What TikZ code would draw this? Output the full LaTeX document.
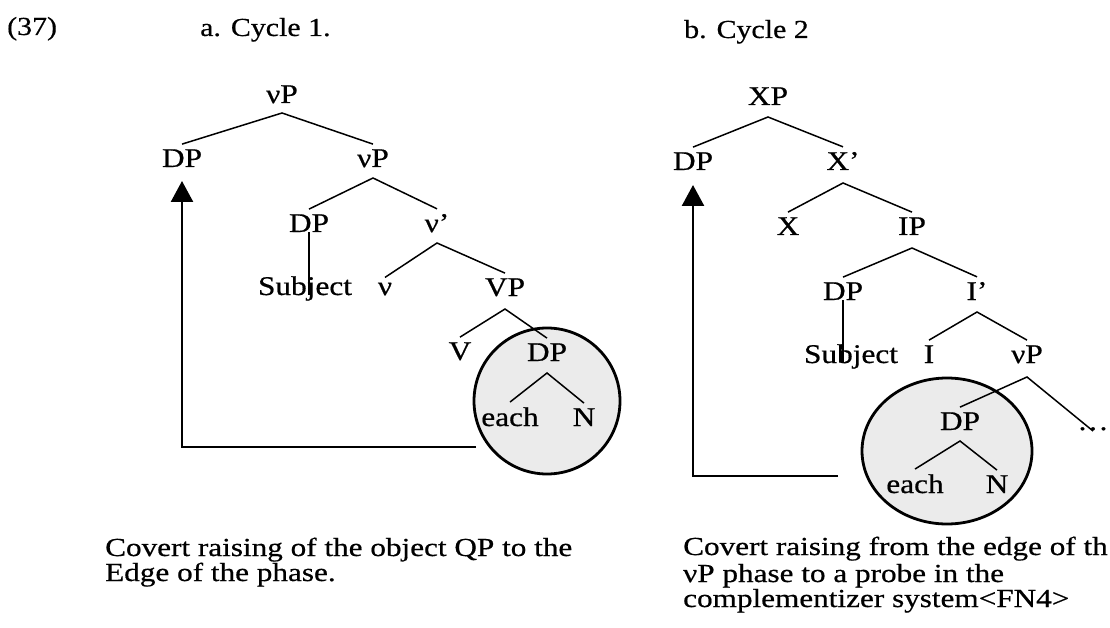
\documentclass[tikz,border=0pt]{standalone}
\usepackage{fontspec}
\setmainfont{Liberation Serif}
\newfontfamily\widefont[FakeStretch=1.16,FakeBold=0.6]{Liberation Serif}
\newfontfamily\headfont[FakeStretch=1.15,FakeBold=0.5]{Liberation Serif}
\newfontfamily\capfont[FakeStretch=1.2,FakeBold=0.6]{Liberation Serif}
\usetikzlibrary{arrows.meta,shapes.geometric}
\begin{document}
\begin{tikzpicture}[x=1pt,y=-1pt,
  lbl/.style={font=\widefont\fontsize{27}{30}\selectfont, inner sep=0pt, anchor=base},
  heading/.style={font=\headfont\fontsize{26}{28}\selectfont, inner sep=0pt, anchor=base west},
  caption/.style={font=\capfont\fontsize{26}{28}\selectfont, inner sep=0pt, anchor=base west},
  branch/.style={line width=1.5pt},
  move/.style={line width=2.5pt, -{Triangle[width=22pt,length=21pt]}},
  phase/.style={draw, line width=2.8pt, fill=black!8, inner sep=0pt},
]
\useasboundingbox (0,0) rectangle (1110,628);
\clip (0,0) rectangle (1110,628);

% headings
\node[heading] (num) at (7,35) {(37)};
\node[heading] (headA) at (200,36) {a. Cycle 1.};
\node[heading] (headB) at (684,38) {b. Cycle 2};

% phase regions (drawn first so the trees sit on top)
\node[phase, circle, minimum size=146pt] (phA) at (547,401) {};
\node[phase, ellipse, minimum width=170pt, minimum height=146pt] (phB) at (947,451) {};

% ---- tree a: cycle 1 ----
\node[lbl] (vPa)   at (282,103) {νP};
\node[lbl] (DPa)   at (182,167) {DP};
\node[lbl] (vPb)   at (373,167) {νP};
\node[lbl] (DPb)   at (309,232) {DP};
\node[lbl] (vbar)  at (437,232) {ν’};
\node[lbl] (subjA) at (305,295) {Subject};
\node[lbl] (nuA)   at (385,295) {ν};
\node[lbl] (VPa)   at (505,296) {VP};
\node[lbl] (Va)    at (460,360) {V};
\node[lbl] (DPc)   at (547,361) {DP};
\node[lbl] (eachA) at (510,426) {each};
\node[lbl] (NA)    at (584,426) {N};

\draw[branch] ([yshift=5pt]DPa.north) -- ([yshift=-10pt]vPa.base) -- ([yshift=5pt]vPb.north);
\draw[branch] ([yshift=5pt]DPb.north) -- ([yshift=-11pt]vPb.base) -- ([yshift=5pt]vbar.north);
\draw[branch] ([yshift=5pt]nuA.north) -- ([yshift=-11pt]vbar.base) -- ([yshift=5pt]VPa.north);
\draw[branch] ([yshift=5pt]Va.north) -- ([yshift=-13pt]VPa.base) -- ([yshift=5pt]DPc.north);
\draw[branch] ([yshift=5pt]eachA.north) -- ([yshift=-12pt]DPc.base) -- ([yshift=5pt]NA.north);
\draw[branch] (DPb.south) -- (DPb.south |- subjA.base);

\coordinate (tailA) at (476,447);
\draw[move] (tailA) -| ([yshift=-14pt]DPa.base);

% ---- tree b: cycle 2 ----
\node[lbl] (XP)    at (768,105) {XP};
\node[lbl] (DPd)   at (693,170) {DP};
\node[lbl] (Xbar)  at (843,170) {X’};
\node[lbl] (Xh)    at (788,235) {X};
\node[lbl] (IP)    at (912,235) {IP};
\node[lbl] (DPe)   at (843,300) {DP};
\node[lbl] (Ibar)  at (977,300) {I’};
\node[lbl] (subjB) at (851,363) {Subject};
\node[lbl] (Ih)    at (929,363) {I};
\node[lbl] (vPc)   at (1027,363) {νP};
\node[lbl] (DPf)   at (960,430) {DP};
\node[lbl] (dots)  at (1093,430) {…};
\node[lbl] (eachB) at (915,493) {each};
\node[lbl] (NB)    at (997,493) {N};

\draw[branch] ([yshift=5pt]DPd.north) -- ([yshift=-12pt]XP.base) -- ([yshift=5pt]Xbar.north);
\draw[branch] ([yshift=5pt]Xh.north) -- ([yshift=-13pt]Xbar.base) -- ([yshift=5pt]IP.north);
\draw[branch] ([yshift=5pt]DPe.north) -- ([yshift=-13pt]IP.base) -- ([yshift=5pt]Ibar.north);
\draw[branch] ([yshift=5pt]Ih.north) -- ([yshift=-12pt]Ibar.base) -- ([yshift=5pt]vPc.north);
\draw[branch] ([yshift=5pt]DPf.north) -- ([yshift=-14pt]vPc.base) -- ([yshift=-4pt]dots.north);
\draw[branch] ([yshift=5pt]eachB.north) -- ([yshift=-11pt]DPf.base) -- ([yshift=5pt]NB.north);
\draw[branch] (DPe.south) -- (DPe.south |- subjB.base);

\coordinate (tailB) at (838,476);
\draw[move] (tailB) -| ([yshift=-15pt]DPd.base);

% captions
\node[caption] (capA1) at (105,556) {Covert raising of the object QP to the};
\node[caption] (capA2) at (105,581) {Edge of the phase.};
\node[caption] (capB1) at (683,555) {Covert raising from the edge of th};
\node[caption] (capB2) at (683,582) {νP phase to a probe in the};
\node[caption] (capB3) at (683,607) {complementizer system<FN4>};
\end{tikzpicture}
\end{document}
